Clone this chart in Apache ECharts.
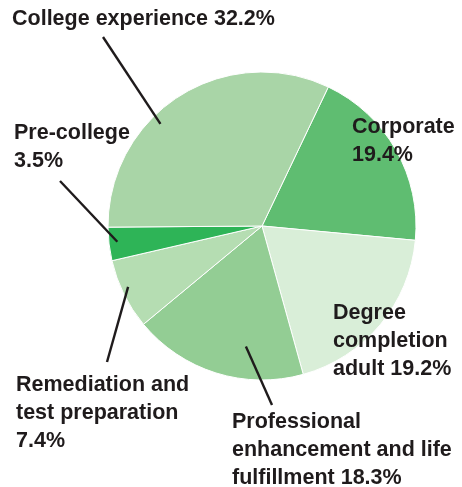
<!DOCTYPE html>
<html>
<head>
<meta charset="utf-8">
<script src="https://cdn.jsdelivr.net/npm/echarts@6/dist/echarts.min.js"></script>
<style>
  html, body { margin: 0; padding: 0; background: #fff; }
  #chart { width: 462px; height: 487px; }
</style>
</head>
<body>
<div id="chart"></div>
<script>
// Data (clockwise from the top-right boundary)
const categories = ['Corporate', 'Degree completion adult', 'Professional enhancement and life fulfillment', 'Remediation and test preparation', 'Pre-college', 'College experience']
const shares = [19.4, 19.2, 18.3, 7.4, 3.5, 32.2]
const labelTexts = [
  'Corporate\n19.4%',
  'Degree\ncompletion\nadult 19.2%',
  'Professional\nenhancement and life\nfulfillment 18.3%',
  'Remediation and\ntest preparation\n7.4%',
  'Pre-college\n3.5%',
  'College experience 32.2%'
]
const colors = ['#5fbd71', '#d9eed8', '#93cd94', '#b5ddb2', '#2eb457', '#a9d5a7']

// Layout of the pie and where each label sits
const CX = 262, CY = 226, R = 154
const START = 64.5
const labelPos = [
  { x: 352, y: 113 },
  { x: 333, y: 299 },
  { x: 232, y: 408 },
  { x: 16, y: 371 },
  { x: 14, y: 119 },
  { x: 12, y: 5 }
]
// leader line: outer end near label, inner end at (angle offset from slice middle, radius fraction)
const leaders = [
  null,
  null,
  { end: [272, 405], dAngle: 9.8, frac: 0.79 },
  { end: [107, 362], dAngle: -1.9, frac: 0.955 },
  { end: [60, 181], dAngle: -0.5, frac: 0.945 },
  { end: [103, 37], dAngle: 12.4, frac: 0.935 }
]

const total = shares.reduce((a, b) => a + b, 0)
const midAngles = []
let acc = START
shares.forEach(v => {
  const span = v / total * 360
  midAngles.push(acc - span / 2)
  acc -= span
})

const chart = echarts.init(document.getElementById('chart'))

const pieBase = {
  type: 'pie',
  center: [CX, CY],
  radius: [0, R],
  startAngle: START,
  clockwise: true
}

const option = {
  backgroundColor: '#ffffff',
  animation: false,
  series: [
    // filled slices
    Object.assign({}, pieBase, {
      z: 2,
      silent: true,
      itemStyle: { borderColor: '#ffffff', borderWidth: 1 },
      label: { show: false },
      labelLine: { show: false },
      data: categories.map((name, i) => ({
        name: name,
        value: shares[i],
        itemStyle: { color: colors[i] }
      }))
    }),
    // transparent copy on top that carries labels and leader lines
    Object.assign({}, pieBase, {
      z: 3,
      silent: true,
      itemStyle: { color: 'rgba(0,0,0,0)', borderWidth: 0 },
      label: {
        show: true,
        position: 'outside',
        alignTo: 'none',
        overflow: 'none',
        color: '#1f1b1c',
        fontFamily: '"Liberation Sans", Arial, sans-serif',
        fontWeight: 'bold',
        fontSize: 21.5,
        lineHeight: 28,
        formatter: p => labelTexts[p.dataIndex]
      },
      labelLine: {
        show: true,
        lineStyle: { color: '#1f1b1c', width: 2.4 }
      },
      labelLayout: function (params) {
        const i = params.dataIndex
        const pos = labelPos[i]
        const res = { x: pos.x, y: pos.y, align: 'left', verticalAlign: 'top', width: 260 }
        const ld = leaders[i]
        if (ld) {
          const a = (midAngles[i] + ld.dAngle) * Math.PI / 180
          const inner = [CX + Math.cos(a) * R * ld.frac, CY - Math.sin(a) * R * ld.frac]
          res.labelLinePoints = [ld.end, inner, inner]
        }
        return res
      },
      data: categories.map((name, i) => ({
        name: name,
        value: shares[i],
        labelLine: { show: leaders[i] !== null }
      }))
    })
  ]
}

chart.setOption(option)
</script>
</body>
</html>
